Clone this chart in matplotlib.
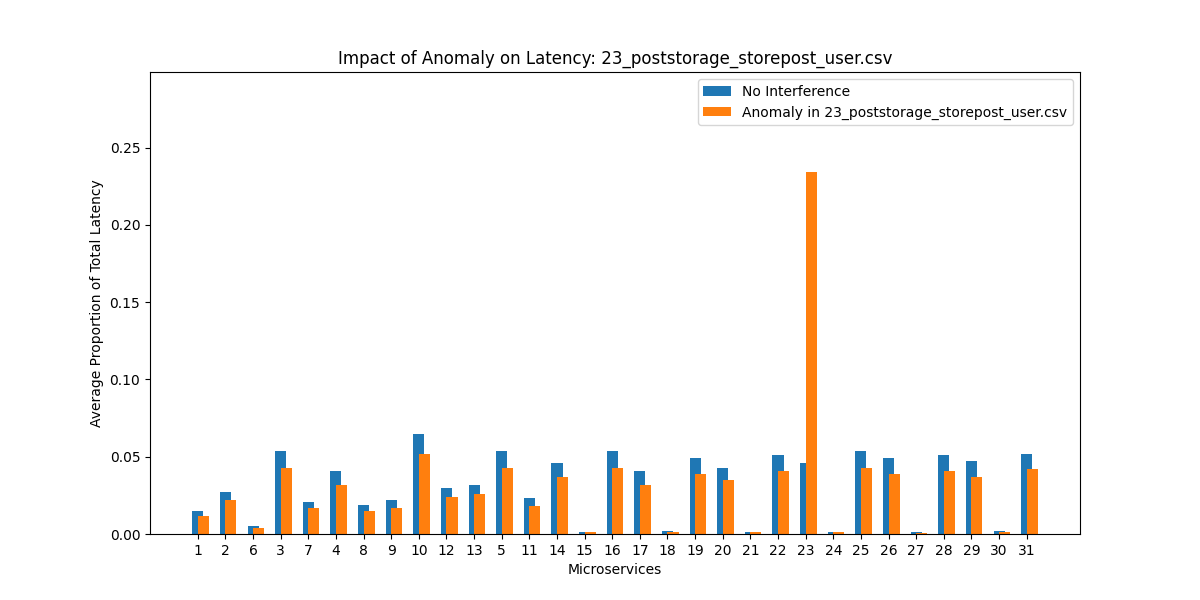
import matplotlib
matplotlib.use("Agg")
import matplotlib.pyplot as plt
import numpy as np

labels = ["1","2","6","3","7","4","8","9","10","12","13","5","11","14","15","16","17","18","19","20","21","22","23","24","25","26","27","28","29","30","31"]
no_interf = [0.015,0.027,0.005,0.054,0.021,0.041,0.019,0.022,0.065,0.030,0.032,0.054,0.023,0.046,0.001,0.054,0.041,0.002,0.049,0.043,0.001,0.051,0.046,0.001,0.054,0.049,0.001,0.051,0.047,0.002,0.052]
anomaly = [0.0117,0.022,0.004,0.043,0.017,0.032,0.015,0.017,0.052,0.024,0.026,0.043,0.018,0.037,0.001,0.043,0.032,0.001,0.039,0.035,0.001,0.041,0.234,0.001,0.043,0.039,0.0005,0.041,0.037,0.001,0.042]

fig, ax = plt.subplots(figsize=(12, 6), dpi=100)
x = np.arange(len(labels))
ax.bar(x, no_interf, width=0.4, color="#1f77b4", label="No Interference")
ax.bar(x + 0.2, anomaly, width=0.4, color="#ff7f0e", label="Anomaly in 23_poststorage_storepost_user.csv")
ax.set_xticks(x)
ax.set_xticklabels(labels)
ax.set_ylim(0, 0.299)
ax.set_xlabel("Microservices")
ax.set_ylabel("Average Proportion of Total Latency")
ax.set_title("Impact of Anomaly on Latency: 23_poststorage_storepost_user.csv")
ax.legend(loc="upper right")
fig.savefig("out.png")
